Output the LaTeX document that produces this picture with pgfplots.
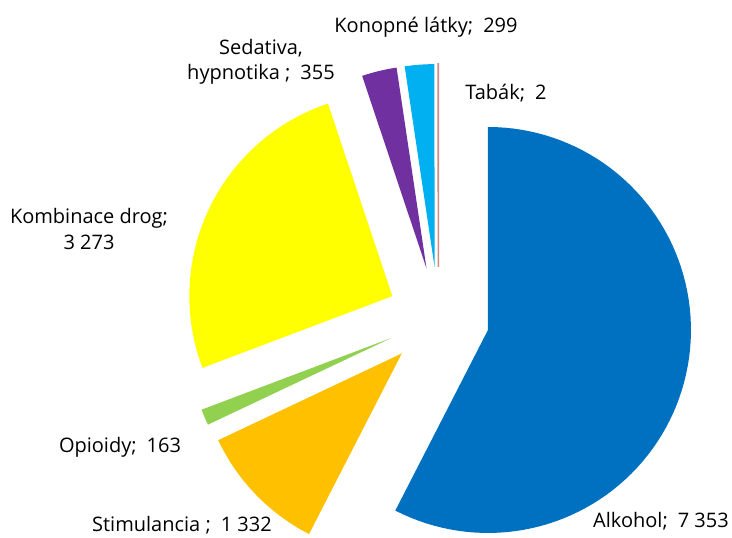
\documentclass[border=0pt]{standalone}
\usepackage{pgfplots}
\pgfplotsset{compat=1.18}
\usepackage{fontspec}
\setmainfont{Open Sans}
\definecolor{alk}{HTML}{0070C0}
\definecolor{sti}{HTML}{FFC000}
\definecolor{opi}{HTML}{92D050}
\definecolor{kom}{HTML}{FFFF00}
\definecolor{sed}{HTML}{7030A0}
\definecolor{kon}{HTML}{00B0F0}
\definecolor{tab}{HTML}{D08A7E}
% values
\def\vAlk{7353}
\def\vSti{1332}
\def\vOpi{163}
\def\vKom{3273}
\def\vSed{355}
\def\vKon{299}
\def\vTab{2}
\pgfmathsetmacro\tot{\vAlk+\vSti+\vOpi+\vKom+\vSed+\vKon+\vTab}
\def\cx{438.4}
\def\cy{220}
\def\R{203}
\gdef\cum{0}
\newcommand\slice[3]{%
  \pgfmathsetmacro\aS{(\cum/\tot)*360}%
  \pgfmathsetmacro\aE{((\cum+#1)/\tot)*360}%
  \pgfmathsetmacro\aM{(\aS+\aE)/2}%
  \pgfmathsetmacro\vx{\cx+#3*sin(\aM)}%
  \pgfmathsetmacro\vy{\cy+#3*cos(\aM)}%
  \pgfmathsetmacro\newcum{\cum+#1}%
  \xdef\cum{\newcum}%
  \edef\tmp{\noexpand\addplot[#2,domain=\aS:\aE,samples=90] ({\vx+\R*sin(x)},{\vy+\R*cos(x)}) -- (axis cs:\vx,\vy) -- cycle;}%
  \tmp
}
\begin{document}
\begin{tikzpicture}
\begin{axis}[
  hide axis, scale only axis,
  width=549pt, height=403.5pt,
  xmin=0, xmax=732, ymin=0, ymax=538,
  clip=false,
]
\slice{\vAlk}{fill=alk,draw=none}{51}
\slice{\vSti}{fill=sti,draw=none}{51}
\slice{\vOpi}{fill=opi,draw=none}{51}
\slice{\vKom}{fill=kom,draw=none}{51}
\slice{\vSed}{fill=sed,draw=none}{51}
\slice{\vKon}{fill=kon,draw=none}{51}
\slice{\vTab}{fill=tab,draw=tab,line width=1.2pt}{51}
\begin{scope}[every node/.style={font=\fontsize{15}{18}\selectfont, text=black, inner sep=0pt}]
\node at (axis cs:426,511) {Konopné látky;\enspace 299};
\node at (axis cs:506,445) {Tabák;\enspace 2};
\node[align=center] at (axis cs:261,476) {Sedativa,\\[1pt]hypnotika ;\enspace 355};
\node[align=center] at (axis cs:89,309) {Kombinace drog;\\[1pt]3 273};
\node at (axis cs:120,91) {Opioidy;\enspace 163};
\node at (axis cs:182,13) {Stimulancia ;\enspace 1 332};
\node at (axis cs:661,17) {Alkohol;\enspace 7 353};
\end{scope}
\end{axis}
\pgfresetboundingbox
\path[use as bounding box] (current axis.south west) rectangle (current axis.north east);
\end{tikzpicture}
\end{document}
